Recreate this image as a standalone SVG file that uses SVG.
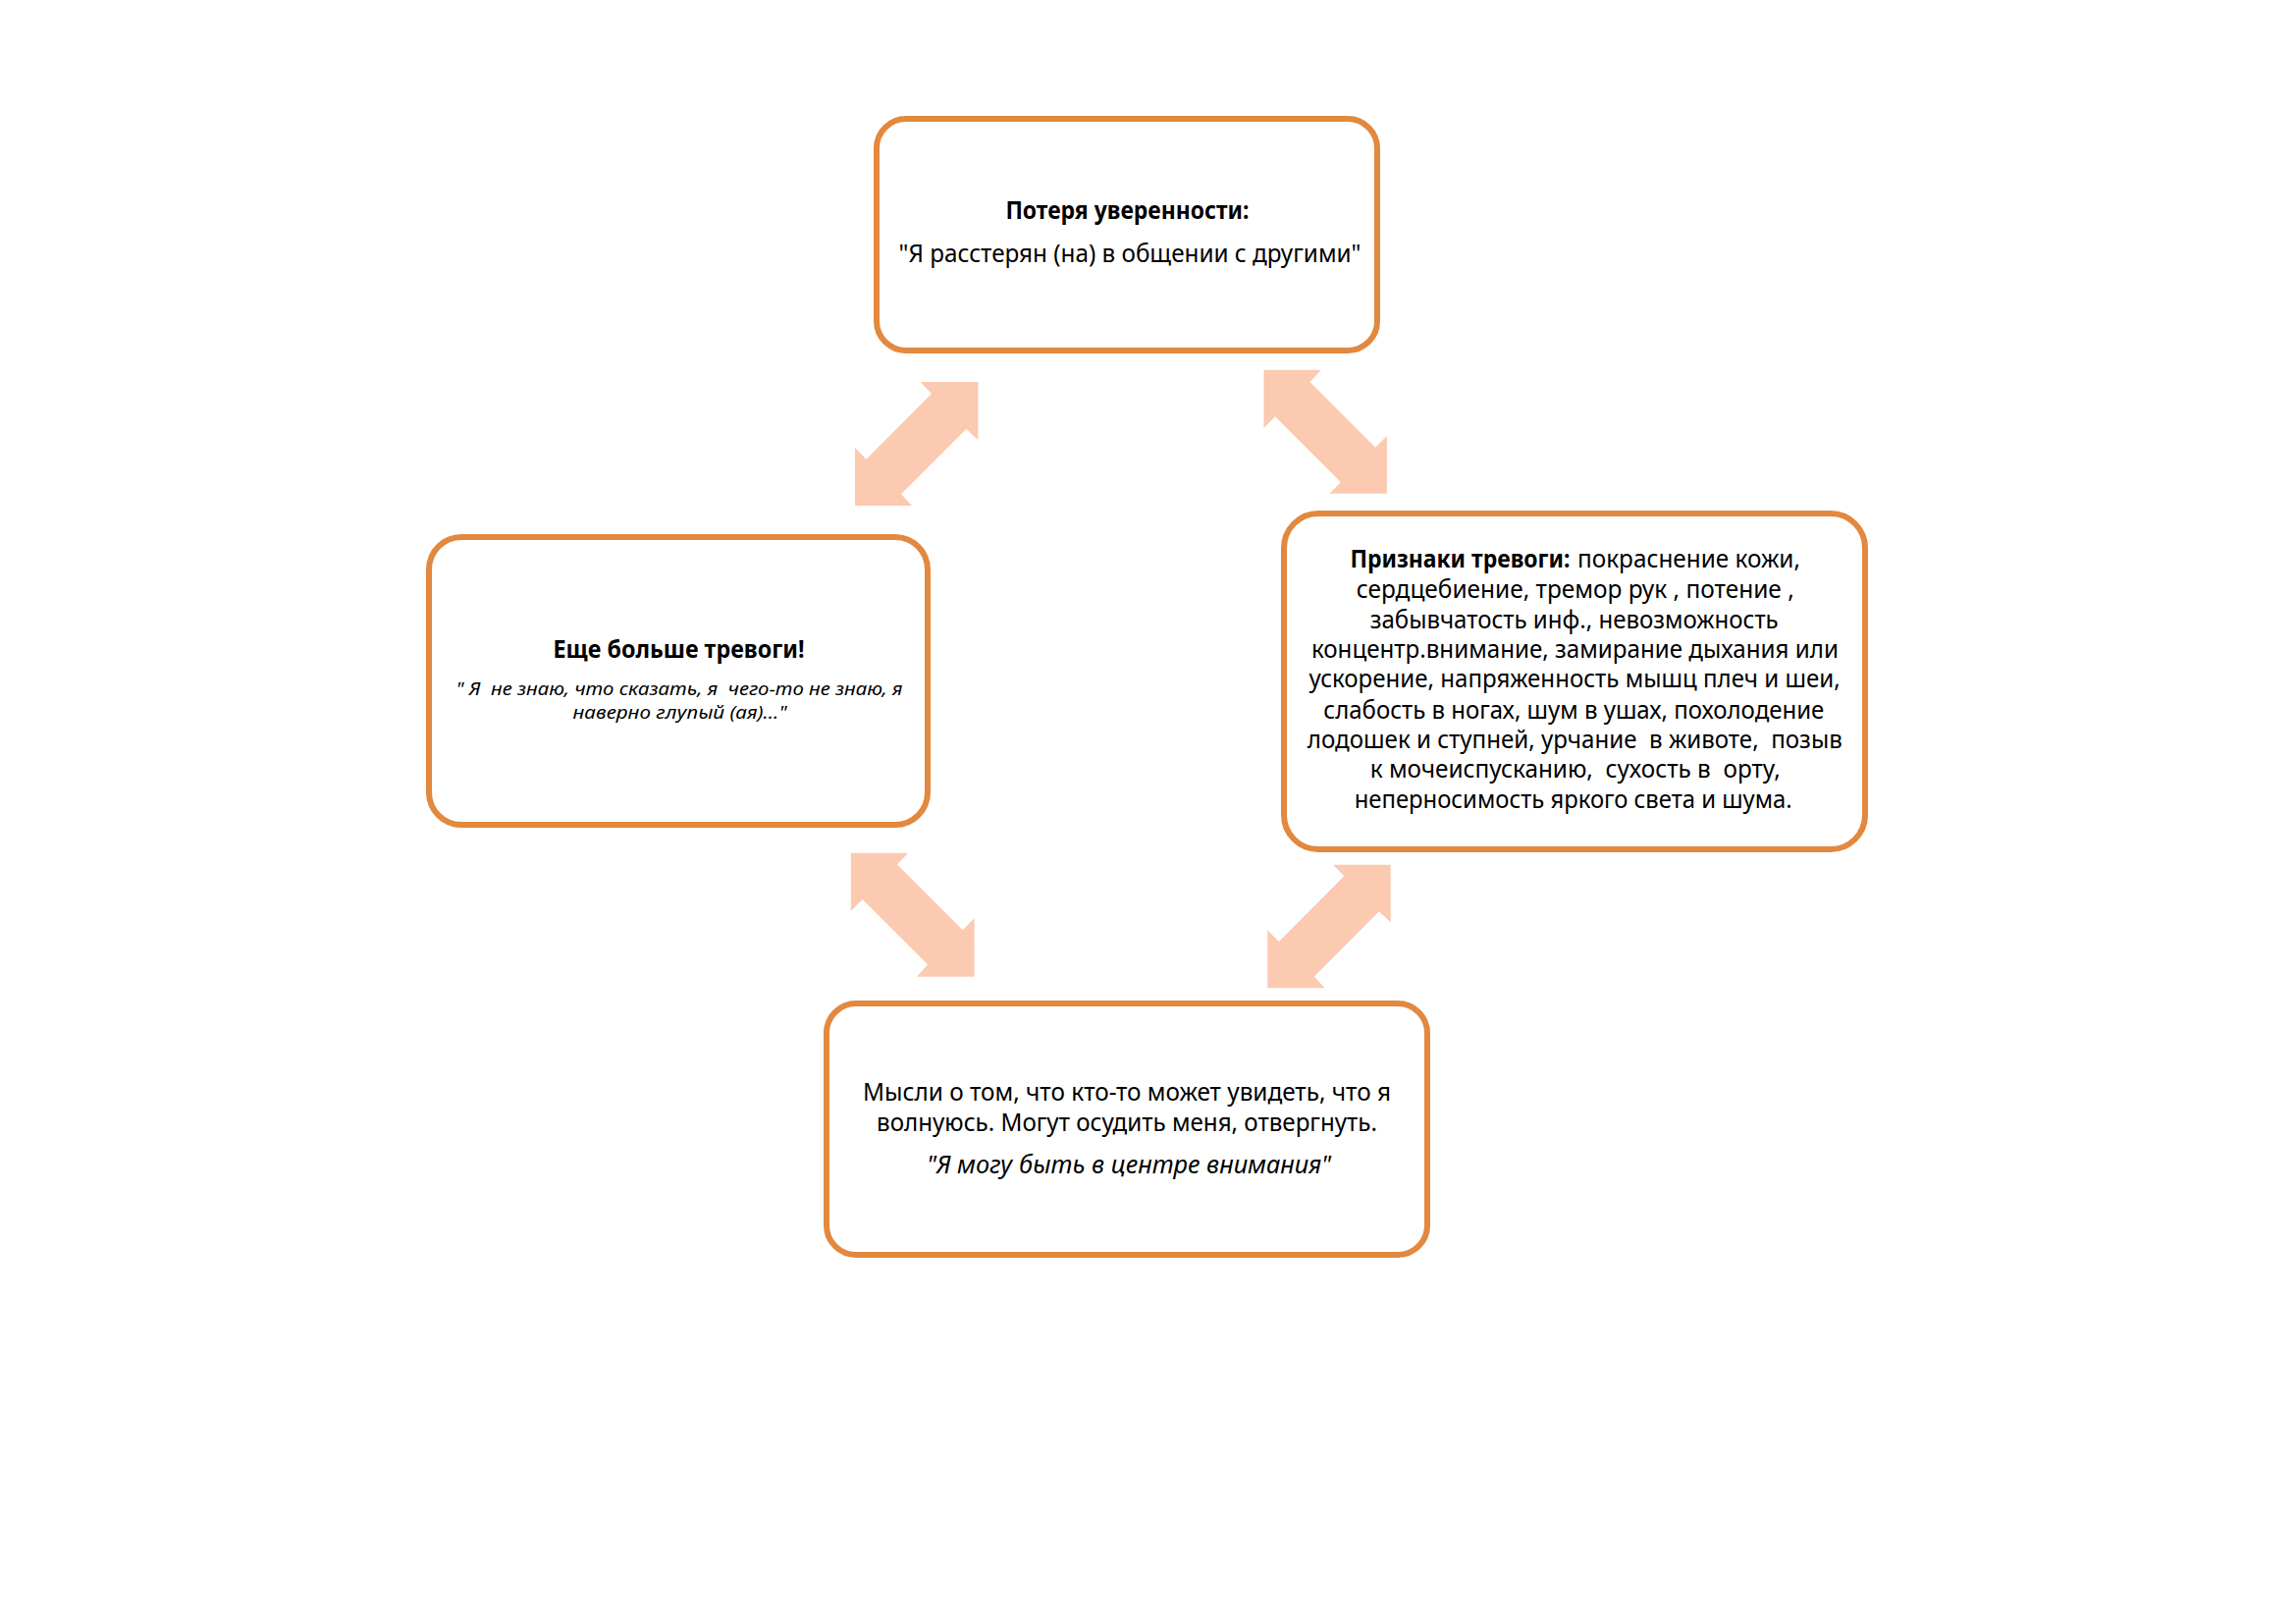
<svg xmlns="http://www.w3.org/2000/svg" width="2339" height="1654" viewBox="0 0 2339 1654">
<style>
.box{fill:#fff;stroke:#E2883F;stroke-width:6}
.arrow{fill:#FBCAB1;stroke:none}
.t{font-family:"Noto Sans","Open Sans","DejaVu Sans",sans-serif;font-size:25px;fill:#000;text-anchor:middle}
.st{text-anchor:start}
.b{font-weight:bold}
.i{font-style:italic}
.s{font-size:18px}
</style>
<rect width="2339" height="1654" fill="#fff"/>
<g id="connectors">
<polygon class="arrow" points="996.4,389 937.5,389 949,401 882.5,467.7 871,456 871,515 929.1,515 918,503.3 984.5,436.7 996.4,448.3"/>
<polygon class="arrow" points="1287.5,376.7 1346,376.7 1334.5,389 1401,455.7 1412.9,444 1412.9,502.7 1354.4,502.7 1365.9,491 1299,424.3 1287.5,436"/>
<polygon class="arrow" points="866.8,868.7 925.3,868.7 913.8,880.3 980.7,947.3 992.5,935.3 992.5,994.7 934.1,994.7 945.1,982.3 878.7,916 866.8,927.7"/>
<polygon class="arrow" points="1358.2,880.7 1416.7,880.7 1416.7,939.3 1404.8,928.3 1338.7,994.7 1349.8,1006.3 1291.3,1006.3 1291.3,947.3 1302.8,959 1369.3,892.3"/>
</g>
<g id="node-top">
<rect class="box" x="893" y="121" width="510" height="236" rx="30" ry="30"/>
<text class="t b" x="1148.4" y="223" textLength="248" lengthAdjust="spacingAndGlyphs">Потеря уверенности:</text>
<text class="t" x="1151" y="267" textLength="471" lengthAdjust="spacingAndGlyphs">"Я расстерян (на) в общении с другими"</text>
</g>
<g id="node-left">
<rect class="box" x="437" y="547" width="508" height="293" rx="33" ry="33"/>
<text class="t b" x="691.5" y="670" textLength="256" lengthAdjust="spacingAndGlyphs">Еще больше тревоги!</text>
<text class="t i s" x="692" y="708" textLength="455" lengthAdjust="spacingAndGlyphs" xml:space="preserve">" Я  не знаю, что сказать, я  чего-то не знаю, я</text>
<text class="t i s" x="692.5" y="732" textLength="218" lengthAdjust="spacingAndGlyphs">наверно глупый (ая)..."</text>
</g>
<g id="node-right">
<rect class="box" x="1308" y="523" width="592" height="342" rx="35" ry="35"/>
<text class="t st b" x="1375.4" y="578" textLength="224" lengthAdjust="spacingAndGlyphs">Признаки тревоги:</text>
<text class="t st" x="1607" y="578" textLength="227" lengthAdjust="spacingAndGlyphs">покраснение кожи,</text>
<text class="t" x="1604.7" y="609" textLength="446" lengthAdjust="spacingAndGlyphs">сердцебиение, тремор рук , потение ,</text>
<text class="t" x="1603.7" y="640" textLength="416" lengthAdjust="spacingAndGlyphs">забывчатость инф., невозможность</text>
<text class="t" x="1604.4" y="670" textLength="537" lengthAdjust="spacingAndGlyphs">концентр.внимание, замирание дыхания или</text>
<text class="t" x="1604.1" y="700" textLength="541" lengthAdjust="spacingAndGlyphs">ускорение, напряженность мышц плеч и шеи,</text>
<text class="t" x="1603.3" y="732" textLength="510" lengthAdjust="spacingAndGlyphs">слабость в ногах, шум в ушах, похолодение</text>
<text class="t" x="1604.3" y="762" textLength="545" lengthAdjust="spacingAndGlyphs" xml:space="preserve">лодошек и ступней, урчание  в животе,  позыв</text>
<text class="t" x="1604.7" y="792" textLength="418" lengthAdjust="spacingAndGlyphs" xml:space="preserve">к мочеиспусканию,  сухость в  орту,</text>
<text class="t" x="1602.7" y="823" textLength="446" lengthAdjust="spacingAndGlyphs">неперносимость яркого света и шума.</text>
</g>
<g id="node-bottom">
<rect class="box" x="842" y="1022" width="612" height="256" rx="30" ry="30"/>
<text class="t" x="1148" y="1121" textLength="538" lengthAdjust="spacingAndGlyphs">Мысли о том, что кто-то может увидеть, что я</text>
<text class="t" x="1148" y="1152" textLength="510" lengthAdjust="spacingAndGlyphs">волнуюсь. Могут осудить меня, отвергнуть.</text>
<text class="t i" x="1150" y="1195" textLength="412" lengthAdjust="spacingAndGlyphs">"Я могу быть в центре внимания"</text>
</g>
</svg>
